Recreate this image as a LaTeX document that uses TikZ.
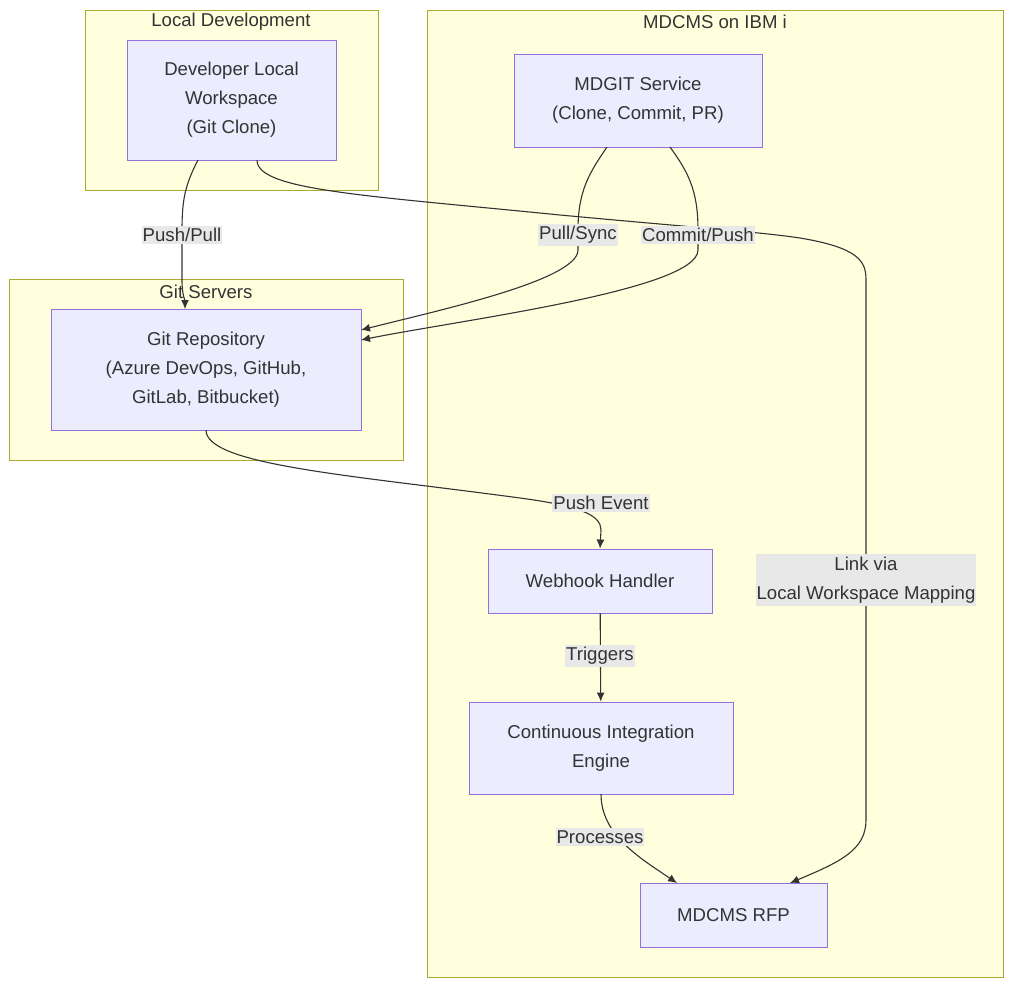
\documentclass[tikz,border=0pt]{standalone}
\usepackage{fontspec}
\setmainfont{Liberation Sans}
\usetikzlibrary{arrows.meta}
\definecolor{clfill}{HTML}{FFFFDE}
\definecolor{cldraw}{HTML}{AAAA33}
\definecolor{ndfill}{HTML}{ECECFF}
\definecolor{nddraw}{HTML}{9370DB}
\definecolor{lbfill}{HTML}{E8E8E8}
\definecolor{txt}{HTML}{333333}
\tikzset{
  cluster/.style={draw=cldraw,fill=clfill,line width=0.9pt},
  box/.style={draw=nddraw,fill=ndfill,line width=0.9pt,text=txt,align=center,font=\fontsize{18.6}{29}\selectfont,inner sep=0pt},
  lbl/.style={fill=lbfill,text=txt,align=center,font=\fontsize{18.6}{29}\selectfont,inner xsep=1pt,inner ysep=2.5pt},
  ttl/.style={text=txt,font=\fontsize{18.6}{22}\selectfont},
  edge/.style={draw=txt,line width=1.1pt,-{Latex[length=9pt,width=8pt]}}
}
\begin{document}
\begin{tikzpicture}[x=1pt,y=-1pt]
\useasboundingbox (0,0) rectangle (1023,997);
\draw[cluster] (85,10) rectangle (378,190);
\node[ttl] (t1) at (231,22) {Local Development};
\draw[cluster] (427,10) rectangle (1003,977);
\node[ttl] (t2) at (715,22) {MDCMS on IBM i};
\draw[cluster] (9,279) rectangle (403,460);
\node[ttl] (t3) at (206,292) {Git Servers};

\node[box,minimum width=209pt,minimum height=120pt] (dev) at (231.5,100) {Developer Local\\Workspace\\(Git Clone)};
\node[box,minimum width=248pt,minimum height=93pt] (mdgit) at (638,100.5) {MDGIT Service\\(Clone, Commit, PR)};
\node[box,minimum width=310pt,minimum height=121pt] (repo) at (206,369.5) {Git Repository\\(Azure DevOps, GitHub,\\GitLab, Bitbucket)};
\node[box,minimum width=224pt,minimum height=64pt] (wh) at (600,581) {Webhook Handler};
\node[box,minimum width=264pt,minimum height=92pt] (ci) at (601,748) {Continuous Integration\\Engine};
\node[box,minimum width=187pt,minimum height=64pt] (rfp) at (733.5,915) {MDCMS RFP};

\coordinate (r1) at (361,330);
\coordinate (r2) at (361,340);

\draw[edge] (198,160) .. controls (185,185) and (182,200) .. (182,230) -- (182,280) .. controls (182,295) and (185,300) .. (185,309);
\draw[edge] (607,147) .. controls (590,172) and (578,190) .. (578,230) -- (578,250) .. controls (578,280) and (440,310) .. (r1);
\draw[edge] (670,147) .. controls (688,172) and (698,190) .. (698,230) -- (698,250) .. controls (698,290) and (460,320) .. (r2);
\draw[edge] (257,160) .. controls (257,190) and (360,195) .. (560,215) .. controls (700,228) and (760,232) .. (800,238) .. controls (860,248) and (866,262) .. (866,280) -- (866,820) .. controls (866,850) and (840,862) .. (790,883);
\draw[edge] (206,430) .. controls (206,465) and (350,475) .. (520,498) .. controls (580,506) and (601,515) .. (601,530) -- (wh.north);
\draw[edge] (wh) -- (ci);
\draw[edge] (601,794) .. controls (601,835) and (640,858) .. (677,883);

\node[lbl] (l1) at (182,235) {Push/Pull};
\node[lbl] (l2) at (578,235) {Pull/Sync};
\node[lbl] (l3) at (698,235) {Commit/Push};
\node[lbl] (l4) at (866,580) {Link via\\Local Workspace Mapping};
\node[lbl] (l5) at (601,503) {Push Event};
\node[lbl] (l6) at (600,656) {Triggers};
\node[lbl] (l7) at (600,837) {Processes};
\end{tikzpicture}
\end{document}
